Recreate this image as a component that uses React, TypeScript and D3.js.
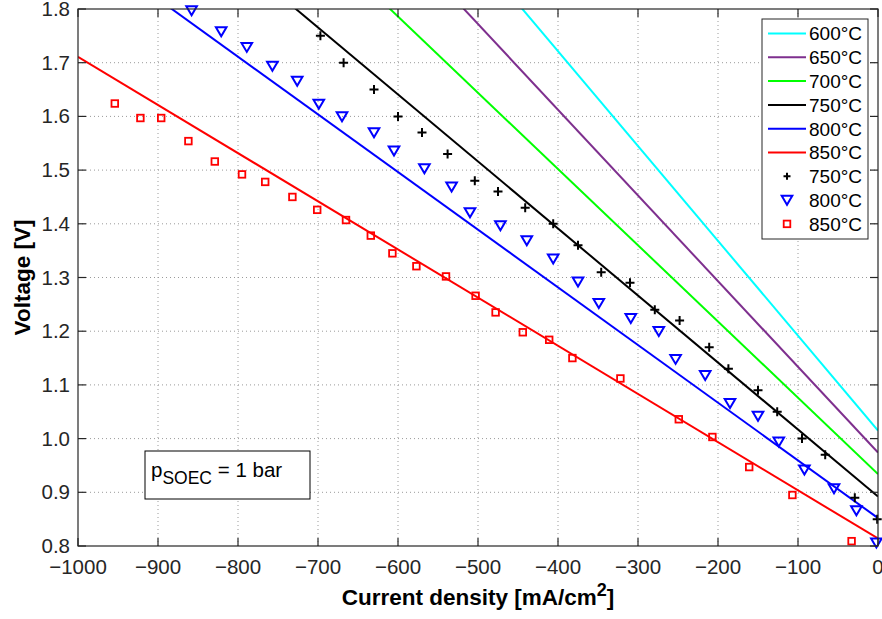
import * as d3 from "d3";

// fitted model lines, voltage at j = 0 and at j = -1000 mA/cm2
const fitLabels = ["600°C", "650°C", "700°C", "750°C", "800°C", "850°C"];
const fitColors = ["#00ffff", "#7e2f8e", "#00ff00", "#000000", "#0000ff", "#ff0000"];
const fitJ = [-1000, 0];
const fitVAt1000 = [2.781, 2.57, 2.354, 2.14, 1.926, 1.711];
const fitVAt0 = [1.015, 0.974, 0.934, 0.892, 0.852, 0.814];

// measured points, 750°C
const j750 = [-697, -668, -630, -600, -570, -538, -504, -475, -441, -406, -375, -346, -310, -279, -248, -211, -187, -150, -126, -95, -66, -29, -1];
const v750 = [1.75, 1.70, 1.65, 1.60, 1.57, 1.53, 1.48, 1.46, 1.43, 1.40, 1.36, 1.31, 1.29, 1.24, 1.22, 1.17, 1.13, 1.09, 1.05, 1.00, 0.97, 0.89, 0.85];

// measured points, 800°C
const j800 = [-858, -821, -789, -757, -726, -699, -670, -630, -605, -567, -533, -510, -472, -439, -406, -375, -349, -309, -274, -253, -216, -185, -150, -124, -92, -55, -27, -2];
const v800 = [1.797, 1.758, 1.729, 1.694, 1.666, 1.623, 1.600, 1.570, 1.536, 1.503, 1.469, 1.421, 1.397, 1.369, 1.335, 1.292, 1.252, 1.224, 1.200, 1.148, 1.118, 1.066, 1.042, 0.994, 0.942, 0.907, 0.866, 0.806];

// measured points, 850°C
const j850 = [-954, -922, -896, -862, -829, -795, -766, -732, -701, -665, -634, -607, -577, -540, -503, -478, -444, -411, -382, -322, -249, -207, -161, -107, -33];
const v850 = [1.624, 1.597, 1.597, 1.554, 1.516, 1.492, 1.478, 1.450, 1.426, 1.407, 1.378, 1.345, 1.321, 1.302, 1.266, 1.235, 1.198, 1.184, 1.150, 1.112, 1.036, 1.003, 0.947, 0.895, 0.809];

const xTicks = [-1000, -900, -800, -700, -600, -500, -400, -300, -200, -100, 0];
const yTicks = [0.8, 0.9, 1.0, 1.1, 1.2, 1.3, 1.4, 1.5, 1.6, 1.7, 1.8];

const W = 882;
const H = 619;
const L = 78, R = 878, T = 9, B = 546;
const FONT = "'Liberation Sans', Arial, Helvetica, sans-serif";

const x = d3.scaleLinear().domain([-1000, 0]).range([L, R]);
const y = d3.scaleLinear().domain([0.8, 1.8]).range([B, T]);

const line = d3
  .line<[number, number]>()
  .x((d) => x(d[0]))
  .y((d) => y(d[1]));

const Cross = ({ cx, cy, s = 4.5 }: { cx: number; cy: number; s?: number }) => (
  <path d={`M${cx - s},${cy}H${cx + s}M${cx},${cy - s}V${cy + s}`} stroke="#000" strokeWidth={2} fill="none" />
);

const Tri = ({ cx, cy }: { cx: number; cy: number }) => {
  const h = 5.3;
  return (
    <path
      d={`M${cx - h},${cy - h * 0.8}L${cx + h},${cy - h * 0.8}L${cx},${cy + h * 0.9}Z`}
      stroke="#0000ff"
      strokeWidth={2}
      fill="none"
      strokeLinejoin="miter"
    />
  );
};

const Sq = ({ cx, cy }: { cx: number; cy: number }) => (
  <rect x={cx - 3.3} y={cy - 3.3} width={6.6} height={6.6} stroke="#ff0000" strokeWidth={1.8} fill="none" />
);

export default function App() {
  const fits = fitLabels.map((lab, i) => ({
    lab,
    color: fitColors[i],
    pts: [
      [fitJ[0], fitVAt1000[i]],
      [fitJ[1], fitVAt0[i]],
    ] as [number, number][],
  }));

  const legX = 762, legY = 19, legW = 106, legH = 220;
  const rowH = 23.8;
  const row0 = 33.5;

  return (
    <svg width={W} height={H} style={{ position: "absolute", left: 0, top: 0, background: "#fff" }} fontFamily={FONT}>
      <defs>
        <clipPath id="plotclip">
          <rect x={L} y={T} width={R - L} height={B - T} />
        </clipPath>
      </defs>
      <rect x={0} y={0} width={W} height={H} fill="#fff" />

      {/* grid */}
      <g stroke="#9a9a9a" strokeWidth={1} strokeDasharray="1,3">
        {xTicks.slice(1, -1).map((t) => (
          <line key={"gx" + t} x1={x(t)} x2={x(t)} y1={T} y2={B} />
        ))}
        {yTicks.slice(1, -1).map((t) => (
          <line key={"gy" + t} x1={L} x2={R} y1={y(t)} y2={y(t)} />
        ))}
      </g>

      {/* fitted lines */}
      <g clipPath="url(#plotclip)">
        {fits.map((f) => (
          <path key={f.lab} d={line(f.pts) || ""} stroke={f.color} strokeWidth={2} fill="none" />
        ))}
      </g>

      {/* measurements */}
      <g>
        {j750.map((j, i) => (
          <Cross key={"c" + i} cx={x(j)} cy={y(v750[i])} />
        ))}
        {j800.map((j, i) => (
          <Tri key={"t" + i} cx={x(j)} cy={y(v800[i])} />
        ))}
        {j850.map((j, i) => (
          <Sq key={"s" + i} cx={x(j)} cy={y(v850[i])} />
        ))}
      </g>

      {/* axes box and ticks */}
      <rect x={L} y={T} width={R - L} height={B - T} fill="none" stroke="#262626" strokeWidth={1.2} />
      <g stroke="#262626" strokeWidth={1.2}>
        {xTicks.map((t) => (
          <g key={"tx" + t}>
            <line x1={x(t)} x2={x(t)} y1={B} y2={B - 8} />
            <line x1={x(t)} x2={x(t)} y1={T} y2={T + 8} />
          </g>
        ))}
        {yTicks.map((t) => (
          <g key={"ty" + t}>
            <line x1={L} x2={L + 8} y1={y(t)} y2={y(t)} />
            <line x1={R} x2={R - 8} y1={y(t)} y2={y(t)} />
          </g>
        ))}
      </g>
      <g fontSize={20.5} fill="#262626">
        {xTicks.map((t) => (
          <text key={"lx" + t} x={x(t)} y={B + 28} textAnchor="middle">
            {d3.format("d")(t)}
          </text>
        ))}
        {yTicks.map((t) => (
          <text key={"ly" + t} x={L - 8} y={y(t) + 7} textAnchor="end">
            {d3.format(".1f")(t)}
          </text>
        ))}
      </g>

      {/* axis titles */}
      <text x={(L + R) / 2} y={605} textAnchor="middle" fontSize={22.5} fontWeight="bold" fill="#000">
        Current density [mA/cm
        <tspan dy={-9} fontSize={18}>2</tspan>
        <tspan dy={9}>]</tspan>
      </text>
      <text
        transform={`translate(30,${(T + B) / 2}) rotate(-90)`}
        textAnchor="middle"
        fontSize={22.5}
        fontWeight="bold"
        fill="#000"
      >
        Voltage [V]
      </text>

      {/* annotation */}
      <rect x={145} y={451} width={165} height={48} fill="#fff" stroke="#000" strokeWidth={1} />
      <text x={151} y={477} fontSize={20.5} fill="#000">
        p
        <tspan dy={7} fontSize={17.5}>SOEC</tspan>
        <tspan dy={-7}> = 1 bar</tspan>
      </text>

      {/* legend */}
      <rect x={legX} y={legY} width={legW} height={legH} fill="#fff" stroke="#262626" strokeWidth={1} />
      <g fontSize={19} fill="#000">
        {fits.map((f, i) => (
          <g key={"lg" + f.lab}>
            <line x1={768} x2={806} y1={row0 + i * rowH} y2={row0 + i * rowH} stroke={f.color} strokeWidth={2} />
            <text x={809} y={row0 + i * rowH + 6.8}>{f.lab}</text>
          </g>
        ))}
        <Cross cx={787} cy={row0 + 6 * rowH} s={3.5} />
        <text x={809} y={row0 + 6 * rowH + 6.8}>750°C</text>
        <Tri cx={787} cy={row0 + 7 * rowH} />
        <text x={809} y={row0 + 7 * rowH + 6.8}>800°C</text>
        <Sq cx={787} cy={row0 + 8 * rowH} />
        <text x={809} y={row0 + 8 * rowH + 6.8}>850°C</text>
      </g>
    </svg>
  );
}
